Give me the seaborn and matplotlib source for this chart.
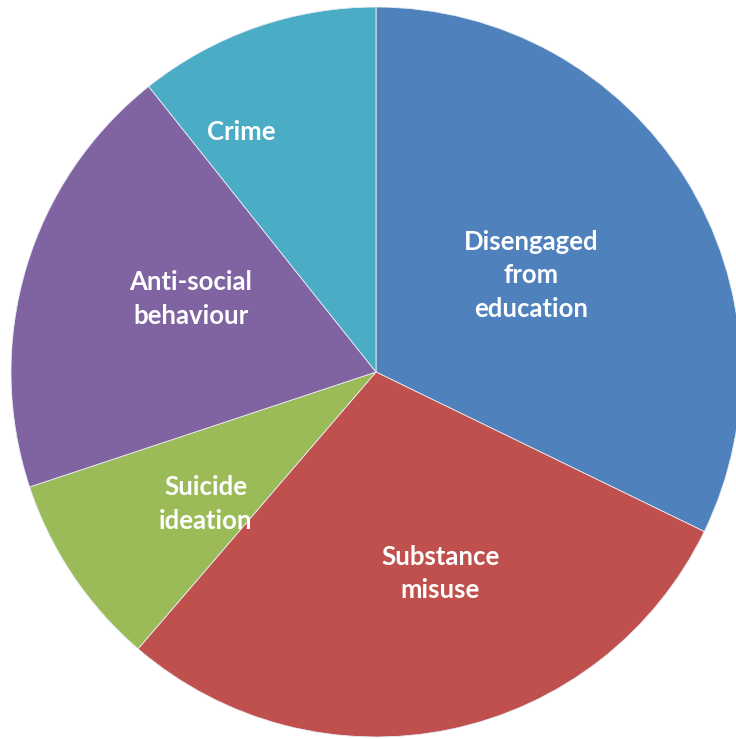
import numpy as np
import seaborn as sns
import matplotlib.pyplot as plt

sns.set_theme(style="white")
plt.rcParams["font.family"] = ["Lato", "DejaVu Sans"]

categories = ["Disengaged\nfrom\neducation", "Substance\nmisuse", "Suicide\nideation",
              "Anti-social\nbehaviour", "Crime"]
values = [32.2, 29.1, 8.6, 19.4, 10.7]
colors = ["#4F81BD", "#C0504D", "#9BBB59", "#8064A2", "#4BACC6"]

# distance of each label from the centre (fraction of radius)
label_r = [0.50, 0.58, 0.59, 0.545, 0.755]
label_shift = [0, 6, 4, -5, 10]  # degrees of rotation for best-fit look

fig = plt.figure(figsize=(7.36, 7.39), dpi=100)
ax = fig.add_axes([0, 0, 1, 1])

wedges, texts = ax.pie(values, labels=categories, colors=colors, startangle=90,
                       counterclock=False, radius=1,
                       wedgeprops=dict(edgecolor="#e8ecf2", linewidth=0.6),
                       textprops=dict(color="white", fontsize=18.5, fontweight="bold",
                                      ha="center", va="center", linespacing=1.48))

for w, t, r, s in zip(wedges, texts, label_r, label_shift):
    mid = np.deg2rad((w.theta1 + w.theta2) / 2 + s)
    t.set_position((r * np.cos(mid), r * np.sin(mid)))
    t.set_ha("center")
    t.set_va("center")

R = 365.0
ax.set_xlim(-376 / R, (736 - 376) / R)
ax.set_ylim(-(739 - 372) / R, 372 / R)
ax.set_aspect("auto")
ax.axis("off")

fig.savefig("out.png", dpi=100)
